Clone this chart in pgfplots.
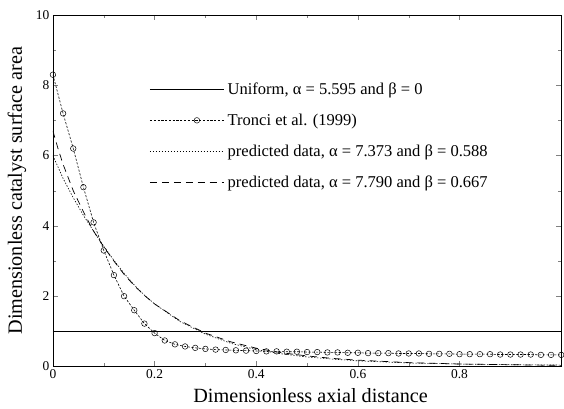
\documentclass[border=0pt]{standalone}
\usepackage{pgfplots}
\pgfplotsset{compat=1.18}
\usepackage{fontspec}
\setmainfont{Liberation Serif}
\begin{document}
\begin{tikzpicture}
\begin{axis}[
  scale only axis, width=509bp, height=352bp,
  xmin=0, xmax=1, ymin=0, ymax=10,
  xtick={0,0.2,0.4,0.6,0.8}, ytick={0,2,4,6,8,10},
  minor x tick num=1, minor y tick num=1,
  tick align=inside,
  major tick length=5bp, minor tick length=3bp,
  axis line style={line width=0.8pt},
  /pgf/number format/assume math mode=true,
  ticklabel style={font=\fontsize{13.5}{13.5}\selectfont},
  xlabel={Dimensionless axial distance},
  ylabel={Dimensionless catalyst surface area},
  label style={font=\fontsize{20.3}{20.3}\selectfont},
  xlabel style={at={(axis description cs:0.507,-0.102)}, anchor=base},
  ylabel style={at={(axis description cs:-0.061,0.5)}, anchor=base},
  legend style={draw=none, fill=none, at={(axis cs:0.184,8.19)}, anchor=north west,
    font=\fontsize{16.6}{16.6}\selectfont, row sep=14bp, cells={anchor=west},
    nodes={inner xsep=3.5bp}},
  legend image code/.code={\draw[#1, mark repeat=2, mark phase=2] plot coordinates {(0bp,0bp) (47bp,0bp) (74bp,0bp)};},
]
\addplot[black, line width=0.6pt] coordinates {(0,1) (1,1)};
\addlegendentry{Uniform, α = 5.595 and β = 0}

\addplot[black, line width=0.6pt, dash pattern=on 2.2pt off 1.6pt,
  mark=o, mark size=2.8bp, mark options={solid, line width=0.5pt}] coordinates {
(0,8.3) (0.02,7.2) (0.04,6.2) (0.06,5.1) (0.08,4.1) (0.10,3.3) (0.12,2.6) (0.14,2.0)
(0.16,1.6) (0.18,1.22) (0.20,0.95) (0.22,0.74) (0.24,0.63) (0.26,0.57) (0.28,0.53)
(0.30,0.5) (0.32,0.48) (0.34,0.47) (0.36,0.46) (0.38,0.45) (0.40,0.44) (0.42,0.43)
(0.44,0.43) (0.46,0.42) (0.48,0.42) (0.50,0.41) (0.52,0.41) (0.54,0.40) (0.56,0.40)
(0.58,0.39) (0.60,0.39) (0.62,0.38) (0.64,0.38) (0.66,0.38) (0.68,0.37) (0.70,0.37)
(0.72,0.37) (0.74,0.36) (0.76,0.36) (0.78,0.36) (0.80,0.35) (0.82,0.35) (0.84,0.35)
(0.86,0.35) (0.88,0.34) (0.90,0.34) (0.92,0.34) (0.94,0.34) (0.96,0.33) (0.98,0.33) (1.00,0.33)};
\addlegendentry{Tronci et al. (1999)}

\addplot[black, line width=0.6pt, dash pattern=on 1.4pt off 1.6pt] coordinates {
(0,6.0) (0.02,5.35) (0.04,4.8) (0.06,4.3) (0.08,3.85) (0.10,3.42) (0.12,3.02) (0.14,2.65)
(0.16,2.32) (0.18,2.03) (0.20,1.78) (0.25,1.28) (0.30,0.92) (0.35,0.66) (0.40,0.48)
(0.45,0.36) (0.50,0.27) (0.55,0.21) (0.60,0.16) (0.70,0.10) (0.80,0.07) (0.90,0.05) (1.00,0.04)};
\addlegendentry{predicted data, α = 7.373 and β = 0.588}

\addplot[black, line width=0.7pt, dash pattern=on 7pt off 5pt] coordinates {
(0,6.7) (0.01,6.2) (0.02,5.75) (0.04,5.0) (0.06,4.4) (0.08,3.85) (0.10,3.4) (0.12,3.0)
(0.14,2.62) (0.16,2.3) (0.18,2.02) (0.20,1.78) (0.25,1.3) (0.30,0.95) (0.35,0.7)
(0.40,0.52) (0.45,0.39) (0.50,0.30) (0.55,0.23) (0.60,0.18) (0.70,0.11) (0.80,0.07) (0.90,0.05) (1.00,0.03)};
\addlegendentry{predicted data, α = 7.790 and β = 0.667}
\end{axis}
\path ([xshift=-53bp,yshift=-42bp]current axis.south west);
\path ([xshift=2bp,yshift=15bp]current axis.north east);
\end{tikzpicture}
\end{document}
